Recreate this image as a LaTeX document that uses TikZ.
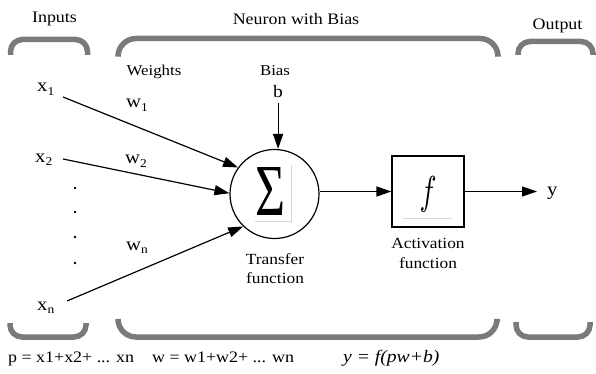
\documentclass[tikz,border=0pt]{standalone}
\usepackage{fontspec}
\setmainfont{Liberation Serif}[FakeStretch=1.12]
\newfontfamily\sigfont{Liberation Serif}
\usetikzlibrary{arrows.meta}
\definecolor{brkgray}{RGB}{122,122,122}
\definecolor{faint}{RGB}{215,215,215}
\newcommand\sublab[2]{#1\raisebox{-3.5pt}{\fontsize{12}{12}\selectfont #2}}
\tikzset{
  brk/.style={draw=brkgray, line width=5.5pt, rounded corners=12pt},
  arr/.style={line width=1.2pt, -{Triangle[length=15pt,width=10pt]}},
  headtxt/.style={font=\fontsize{16}{19}\selectfont, anchor=base, inner sep=0pt},
  smalltxt/.style={font=\fontsize{15}{18}\selectfont, anchor=base, inner sep=0pt},
  captxt/.style={font=\fontsize{15.5}{20}\selectfont, anchor=base, inner sep=0pt},
  labtxt/.style={font=\fontsize{18.5}{20}\selectfont, anchor=base west, inner sep=0pt},
  formtxt/.style={font=\fontsize{16}{19}\selectfont, anchor=base west, inner sep=0pt},
  dotmark/.style={circle, fill=black, inner sep=0pt, minimum size=2.6pt}
}
\begin{document}
\begin{tikzpicture}[x=1pt,y=-1pt]
\useasboundingbox (0,0) rectangle (596,374);
% headings
\node[headtxt] (hin) at (54.5,23) {Inputs};
\node[headtxt] (hneu) at (296,25) {Neuron with Bias};
\node[headtxt] (hout) at (557.5,30) {Output};
% brackets top
\draw[brk] (10.5,55) -- (10.5,39.5) -- (87.5,39.5) -- (87.5,55);
\draw[brk, rounded corners=18pt] (118,55) -- (118,38.5) -- (498,38.5) -- (498,55);
\draw[brk] (518,55) -- (518,41.5) -- (593,41.5) -- (593,55);
% brackets bottom
\draw[brk] (10,323) -- (10,337) -- (86,337) -- (86,323);
\draw[brk, rounded corners=18pt] (118,322) -- (118,337) -- (497,337) -- (497,322);
\draw[brk] (516,322) -- (516,337) -- (590,337) -- (590,322);
% labels
\node[smalltxt] (wts) at (154,76) {Weights};
\node[smalltxt] (bias) at (275,76) {Bias};
\node[labtxt, font=\fontsize{17.5}{20}\selectfont] (b) at (273,98) {b};
\node[labtxt] (x1) at (37,92) {\sublab{x}{1}};
\node[labtxt] (x2) at (35,162) {\sublab{x}{2}};
\node[labtxt] (xn) at (37,310) {\sublab{x}{n}};
\node[labtxt] (w1) at (126,108) {\sublab{w}{1}};
\node[labtxt] (w2) at (125,164) {\sublab{w}{2}};
\node[labtxt] (wn) at (126,250) {\sublab{w}{n}};
\node[labtxt] (y) at (547,195) {y};
% dots
\node[dotmark] (d1) at (75,188) {};
\node[dotmark] (d2) at (75,212) {};
\node[dotmark] (d3) at (75,237) {};
\node[dotmark] (d4) at (75,263) {};
% summation
\node[circle, draw, line width=1.2pt, minimum size=89pt, inner sep=0pt] (s) at (274.5,194) {};
\node[inner sep=0pt] (sig) at (270,191) {\resizebox{30pt}{48pt}{\sigfont Σ}};
\draw[faint, line width=0.8pt] (255,221) -- (291,221) -- (291,165);
\node[captxt] (tf1) at (275,264) {Transfer};
\node[captxt] (tf2) at (275,283) {function};
% activation
\node[draw, line width=1.2pt, minimum width=72pt, minimum height=71pt, inner sep=0pt] (f) at (428,191.5) {};
\node[inner sep=0pt] (fl) at (428,194) {\resizebox{17pt}{28pt}{$f$}};
\draw[faint, line width=0.8pt] (403,218) -- (452,218);
\node[captxt] (af1) at (428,248) {Activation};
\node[captxt] (af2) at (428,268) {function};
% connectors
\coordinate (x1s) at (63,97);
\coordinate (x2s) at (63,159);
\coordinate (xns) at (67,301);
\draw[arr] (x1s) -- (s.144);
\draw[arr] (x2s) -- (s.179);
\draw[arr] (xns) -- (s.226);
\draw[arr, shorten <=5pt] (b.south) -- (b.south |- s.north);
\draw[arr] (s.east |- f.west) -- (f.west);
\draw[arr] (f.east) -- ([xshift=-10pt]y.west |- f.east);
% formulas
\node[formtxt] (pf) at (8,362) {p = x1+x2+ ... xn};
\node[formtxt] (wf) at (152,362) {w = w1+w2+ ... wn};
\node[formtxt, font=\fontsize{17.5}{20}\selectfont\itshape] (yf) at (343,362) {y = f(pw+b)};
\end{tikzpicture}
\end{document}
